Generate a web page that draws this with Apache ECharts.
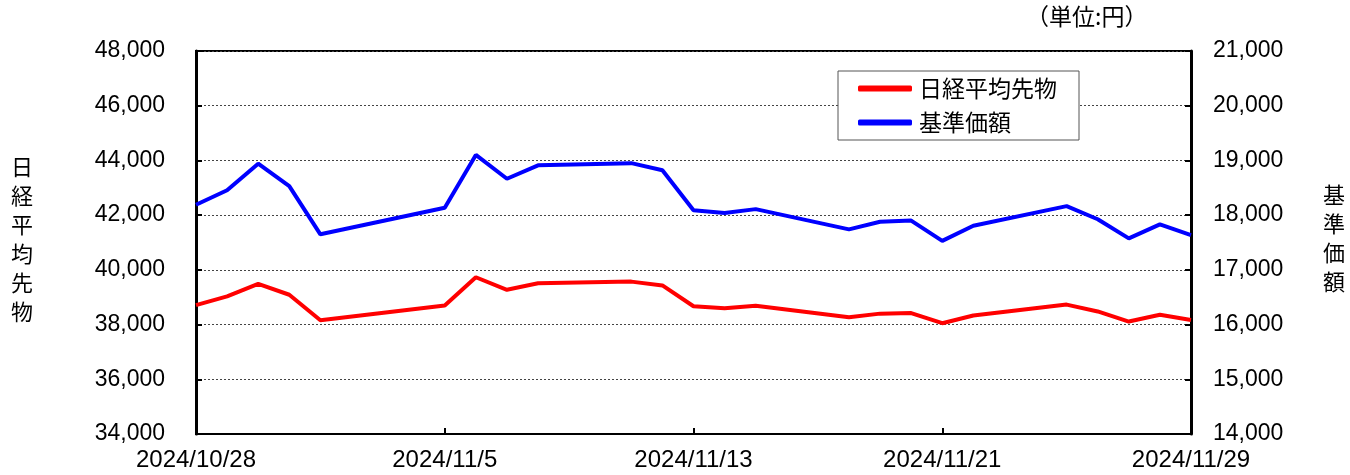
<!DOCTYPE html>
<html><head><meta charset="utf-8">
<script src="https://cdn.jsdelivr.net/npm/echarts@6/dist/echarts.min.js"></script>
<style>html,body{margin:0;padding:0;background:#fff}#c{width:1350px;height:475px}</style>
</head><body><div id="c"></div>
<script>
const dates = ['2024/10/28','2024/10/29','2024/10/30','2024/10/31','2024/11/1','2024/11/5','2024/11/6','2024/11/7','2024/11/8','2024/11/11','2024/11/12','2024/11/13','2024/11/14','2024/11/15','2024/11/18','2024/11/19','2024/11/20','2024/11/21','2024/11/22','2024/11/25','2024/11/26','2024/11/27','2024/11/28','2024/11/29'];
const futures = [38710,39030,39490,39090,38160,38700,39730,39270,39510,39570,39430,38670,38600,38690,38270,38400,38420,38050,38330,38730,38480,38110,38360,38170];
const nav = [18190,18455,18940,18530,17650,18135,19100,18665,18910,18950,18820,18090,18040,18110,17740,17880,17900,17530,17805,18165,17925,17575,17830,17635];
const seriesNames = ['日経平均先物','基準価額'];
const leftTitle = '日経平均先物';
const rightTitle = '基準価額';
const unitLabel = '（単位:円）';
const startDate = '2024/10/28';
const endDate = '2024/11/29';
const xTickStepDays = 8;

function dayNum(s){const p=s.split('/').map(Number);return Date.UTC(p[0],p[1]-1,p[2])/86400000;}
const d0 = dayNum(startDate);
const xs = dates.map(d=>dayNum(d)-d0);
function fmtDate(v){const dt=new Date((d0+v)*86400000);return dt.getUTCFullYear()+'/'+(dt.getUTCMonth()+1)+'/'+dt.getUTCDate();}
function fmtNum(v){return v.toLocaleString('en-US');}

const font = '"Liberation Sans", Arial, "Noto Sans CJK JP", sans-serif';
const jfont = '"Noto Sans CJK JP", sans-serif';
const chart = echarts.init(document.getElementById('c'));
chart.setOption({
  animation:false,
  grid:{left:196,right:159,top:51,bottom:41,show:true,borderColor:'#000',borderWidth:2,backgroundColor:'transparent'},
  legend:{
    orient:'vertical',left:838,top:71,
    data:seriesNames,
    icon:'roundRect',itemWidth:54,itemHeight:6,itemGap:11,
    padding:[6,22,6,20],
    borderColor:'#555',borderWidth:1,backgroundColor:'#fff',
    textStyle:{fontFamily:jfont,fontSize:23,color:'#000',padding:[0,0,0,2]}
  },
  xAxis:{
    type:'value',min:0,max:dayNum(endDate)-d0,interval:xTickStepDays,
    axisLine:{lineStyle:{color:'#000',width:2}},
    axisTick:{inside:true,length:6,lineStyle:{color:'#000',width:2}},
    splitLine:{show:false},
    axisLabel:{formatter:fmtDate,fontFamily:font,fontSize:24,color:'#000',margin:14,showMaxLabel:true,showMinLabel:true}
  },
  yAxis:[
    {type:'value',min:34000,max:48000,interval:2000,position:'left',
     axisLine:{show:true,lineStyle:{color:'#000',width:3}},
     axisTick:{show:true,inside:true,length:6,lineStyle:{color:'#000',width:2}},
     splitLine:{show:true,lineStyle:{color:'#444',width:1,type:[2,2]}},
     axisLabel:{formatter:fmtNum,fontFamily:font,fontSize:23,color:'#000',margin:31}},
    {type:'value',min:14000,max:21000,interval:1000,position:'right',
     axisLine:{show:true,lineStyle:{color:'#000',width:3}},
     axisTick:{show:true,inside:true,length:6,lineStyle:{color:'#000',width:2}},
     splitLine:{show:false},
     axisLabel:{formatter:fmtNum,fontFamily:font,fontSize:23,color:'#000',margin:22}}
  ],
  series:[
    {name:seriesNames[0],type:'line',yAxisIndex:0,data:xs.map((x,i)=>[x,futures[i]]),
     showSymbol:false,symbol:'none',lineStyle:{color:'#ff0000',width:4},itemStyle:{color:'#ff0000'}},
    {name:seriesNames[1],type:'line',yAxisIndex:1,data:xs.map((x,i)=>[x,nav[i]]),
     showSymbol:false,symbol:'none',lineStyle:{color:'#0000ff',width:4},itemStyle:{color:'#0000ff'}}
  ],
  graphic:[
    {type:'text',left:11,top:152,style:{text:leftTitle.split('').join('\n'),font:'22px '+jfont,lineHeight:29,fill:'#000',textAlign:'left'}},
    {type:'text',left:1323,top:180,style:{text:rightTitle.split('').join('\n'),font:'22px '+jfont,lineHeight:29,fill:'#000',textAlign:'left'}},
    {type:'text',left:1026,top:5,style:{text:unitLabel,font:'23px '+jfont,fill:'#000'}}
  ]
});
</script></body></html>
